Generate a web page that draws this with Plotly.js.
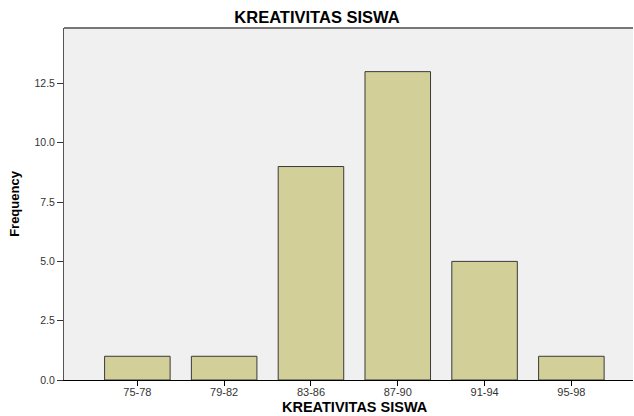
<!DOCTYPE html>
<html>
<head>
<meta charset="utf-8">
<script src="https://cdn.plot.ly/plotly-3.0.1.min.js"></script>
<style>html,body{margin:0;padding:0;background:#fff;}#chart{width:634px;height:416px;}</style>
</head>
<body>
<div id="chart"></div>
<script>
const categories = ["75-78", "79-82", "83-86", "87-90", "91-94", "95-98"];
const frequency = [1, 1, 9, 13, 5, 1];
const yTicks = [0, 2.5, 5, 7.5, 10, 12.5];

const trace = {
  type: "bar",
  x: categories,
  y: frequency,
  marker: {color: "#d3cf98", line: {color: "#3a3a3a", width: 1}},
  hoverinfo: "none"
};

const layout = {
  width: 634,
  height: 416,
  margin: {l: 64, r: 1, t: 28, b: 36},
  paper_bgcolor: "#ffffff",
  plot_bgcolor: "#f0f0f0",
  bargap: 0.245,
  showlegend: false,
  font: {family: "Liberation Sans, Arial, sans-serif", color: "#333"},
  title: {
    text: "<b>KREATIVITAS SISWA</b>",
    font: {size: 16.5, color: "#000"},
    x: 0.5, xref: "container", xanchor: "center",
    y: 0.958, yref: "container", yanchor: "middle"
  },
  xaxis: {
    type: "category",
    range: [-0.845, 5.71],
    showgrid: false,
    zeroline: false,
    showline: true,
    linecolor: "#000",
    linewidth: 1,
    ticks: "outside",
    ticklen: 5,
    tickcolor: "#000",
    ticklabelstandoff: -3,
    tickfont: {size: 11, color: "#333"},
    fixedrange: true
  },
  yaxis: {
    range: [0, 14.84],
    tickvals: yTicks,
    tickformat: ".1f",
    showgrid: false,
    zeroline: false,
    showline: true,
    linecolor: "#555",
    linewidth: 1,
    ticks: "outside",
    ticklen: 6,
    tickcolor: "#333",
    tickfont: {size: 10.5, color: "#333"},
    title: {text: "<b>Frequency</b>", font: {size: 13, color: "#000"}, standoff: 11},
    fixedrange: true
  },
  annotations: [{
    text: "<b>KREATIVITAS SISWA</b>",
    xref: "paper", yref: "paper",
    x: (355 - 64) / 569, y: (380 - 407) / 352,
    xanchor: "center", yanchor: "middle",
    showarrow: false,
    font: {size: 14.5, color: "#000"}
  }],
  shapes: [{
    type: "line", xref: "paper", yref: "paper",
    x0: 0, x1: 1, y0: 1, y1: 1,
    line: {color: "#777", width: 2}
  }]
};

Plotly.newPlot("chart", [trace], layout, {displayModeBar: false, staticPlot: true});
</script>
</body>
</html>
